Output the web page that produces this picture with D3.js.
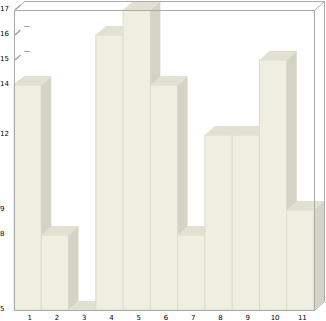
<!DOCTYPE html>
<html>
<head>
<style>
body {margin: 0; background: #fff;}
text {font-family: "DejaVu Sans", sans-serif; font-size: 7px; fill: #000;}
</style>
<script src="https://d3js.org/d3.v7.min.js"></script>
</head>
<body>
<svg id="vis" width="326" height="321"></svg>
<script>
var categories = ["1","2","3","4","5","6","7","8","9","10","11"];
var values = [14, 8, 5, 16, 17, 14, 8, 12, 12, 15, 9];
var yTicks = [5, 8, 9, 12, 14, 15, 16, 17];

// depth of the 3d effect
var dx = 10, dy = 9;

var svg = d3.select("#vis");

var x = d3.scaleBand().domain(categories).range([14, 314]).padding(0);
var y = d3.scaleLinear().domain([5, 17]).range([310, 10]);

var frameColor = "#aaaaaa";

// little ticks on the left wall and back wall
var ticks = svg.append("g");
yTicks.forEach(function(t) {
  var yy = y(t) + 0.5;
  ticks.append("path")
    .attr("d", "M15," + (yy - 0.5) + "L20.5," + (yy - 5.5))
    .style("stroke", "#999").style("stroke-width", 1.2).style("fill", "none");
  ticks.append("line")
    .attr("x1", 14 + dx).attr("y1", yy - dy)
    .attr("x2", 14 + dx + 6).attr("y2", yy - dy)
    .style("stroke", frameColor);
});

// bars, left to right so later fronts cover earlier sides
var bars = svg.append("g");
values.forEach(function(v, i) {
  var x0 = x(categories[i]), x1 = x0 + x.bandwidth();
  var yt = y(v), yb = y(5);
  var g = bars.append("g");
  g.append("rect")
    .attr("x", x0).attr("y", yt)
    .attr("width", x.bandwidth()).attr("height", yb - yt)
    .style("fill", "#efefe1").style("stroke", "#dcdccc").style("stroke-width", 1);
  g.append("path")
    .attr("d", "M" + x1 + "," + yt + "L" + (x1 + dx) + "," + (yt - dy) +
               "L" + (x1 + dx) + "," + (yb - dy) + "L" + x1 + "," + yb + "Z")
    .style("fill", "#d4d4c4");
  g.append("path")
    .attr("d", "M" + x0 + "," + yt + "L" + x1 + "," + yt +
               "L" + (x1 + dx) + "," + (yt - dy) + "L" + (x0 + dx) + "," + (yt - dy) + "Z")
    .style("fill", "#e1e1d2");
});

// frame of the box
var L = 14, R = 314, T = y(17), B = y(5);
var frame = [
  [L, T, L, B], [L, B, R, B], [L, T, R, T], [R, T, R, B],
  [L + dx, T - dy, R + dx, T - dy], [R + dx, T - dy, R + dx, B - dy],
  [L, T, L + dx, T - dy], [R, T, R + dx, T - dy], [R, B, R + dx, B - dy]
];
svg.append("g").selectAll("line")
  .data(frame)
  .enter().append("line")
    .attr("x1", function(d) { return d[0] + 0.5; })
    .attr("y1", function(d) { return d[1] + 0.5; })
    .attr("x2", function(d) { return d[2] + 0.5; })
    .attr("y2", function(d) { return d[3] + 0.5; })
    .style("stroke", frameColor);

// labels
svg.append("g").selectAll("text")
  .data(yTicks)
  .enter().append("text")
    .attr("x", 0)
    .attr("y", function(d) { return y(d) + 0.5; })
    .text(function(d) { return d; });

svg.append("g").selectAll("text")
  .data(categories)
  .enter().append("text")
    .attr("x", function(d) { return x(d) + x.bandwidth() / 2 + 2; })
    .attr("y", 320)
    .attr("text-anchor", "middle")
    .text(function(d) { return d; });
</script>
</body>
</html>
